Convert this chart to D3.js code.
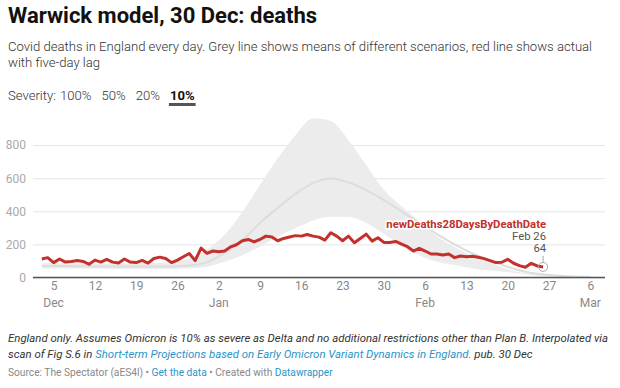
<!DOCTYPE html>
<html>
<head>
<meta charset="utf-8">
<script src="https://cdn.jsdelivr.net/npm/d3@7"></script>
<style>
  body { margin: 0; background: #fff; }
  svg { display: block; font-family: Roboto, sans-serif; }
</style>
</head>
<body>
<div id="chart"></div>
<script>
const parse = d3.timeParse('%Y-%m-%d')

// actual deaths, daily from Dec 3 to Feb 26 (five-day lag)
const actualStart = '2021-12-03'
const actualDeaths = [
  112, 120, 90, 112, 93, 97, 103, 97, 80, 105, 93, 110, 93, 87, 112, 93, 90, 103, 87, 115,
  123, 115, 90, 105, 125, 145, 102, 178, 146,
  160, 155, 160, 185, 198, 222, 230, 215, 230, 250, 245, 222, 236, 245, 253, 250, 260, 250,
  244, 226, 270, 250, 222, 250, 210, 236, 262, 220, 240, 212, 212,
  218, 202, 186, 160, 176, 160, 142, 142, 136, 142, 120, 130, 126, 128, 122, 114, 102, 90,
  92, 110, 86, 72, 62, 86, 70, 64,
]

// model scenarios (10% severity), range and mean
const bandDates = [
  '2021-12-03', '2021-12-10', '2021-12-17', '2021-12-24', '2021-12-28', '2021-12-31',
  '2022-01-03', '2022-01-06', '2022-01-09', '2022-01-12', '2022-01-15', '2022-01-18',
  '2022-01-21', '2022-01-24', '2022-01-27', '2022-01-30', '2022-02-02', '2022-02-05',
  '2022-02-08', '2022-02-11', '2022-02-14', '2022-02-17', '2022-02-20', '2022-02-23',
  '2022-02-27', '2022-03-02', '2022-03-06',
]
const bandLow = [55, 55, 52, 52, 55, 65, 95, 135, 186, 246, 297, 345, 367, 365, 330, 265, 195, 135, 95, 75, 55, 42, 32, 20, 5, 2, 0]
const bandMean = [70, 68, 66, 66, 72, 92, 150, 225, 330, 420, 505, 570, 598, 575, 528, 468, 400, 330, 262, 200, 145, 102, 65, 35, 15, 8, 3]
const bandHigh = [88, 85, 85, 90, 115, 170, 260, 395, 560, 720, 860, 962, 945, 830, 680, 530, 430, 340, 250, 185, 130, 90, 50, 25, 15, 8, 3]

const yTicks = [0, 200, 400, 600, 800]
const xTicks = [
  '2021-12-05', '2021-12-12', '2021-12-19', '2021-12-26', '2022-01-02', '2022-01-09',
  '2022-01-16', '2022-01-23', '2022-01-30', '2022-02-06', '2022-02-13', '2022-02-20',
  '2022-02-27', '2022-03-06',
]
const monthTicks = ['2021-12-05', '2022-01-02', '2022-02-06', '2022-03-06']
const monthNames = ['Dec', 'Jan', 'Feb', 'Mar']
const severities = ['100%', '50%', '20%', '10%']
const activeSeverity = '10%'

const width = 620
const height = 388
const red = '#c4302b'
const blue = '#2a94c8'

const svg = d3
  .select('#chart')
  .append('svg')
  .attr('width', width)
  .attr('height', height)

// header
svg.append('text')
  .attr('x', 8).attr('y', 23)
  .style('font-size', '22px').style('font-weight', 700).style('fill', '#111')
  .text('Warwick model, 30 Dec: deaths')

const sub = svg.append('text')
  .style('font-size', '13.1px').style('font-weight', 300).style('fill', '#333')
sub.append('tspan').attr('x', 8).attr('y', 51)
  .text('Covid deaths in England every day. Grey line shows means of different scenarios, red line shows actual')
sub.append('tspan').attr('x', 8).attr('y', 67)
  .text('with five-day lag')

// severity buttons
let bx = 8
const sevLabel = svg.append('text')
  .attr('x', bx).attr('y', 100)
  .style('font-size', '13.1px').style('font-weight', 300).style('fill', '#333')
  .text('Severity:')
bx += sevLabel.node().getComputedTextLength() + 4
severities.forEach((s) => {
  const active = s === activeSeverity
  const t = svg.append('text')
    .attr('x', bx).attr('y', 100)
    .style('font-size', '13.1px').style('fill', active ? '#111' : '#333')
    .style('font-weight', active ? 700 : 300)
    .text(s)
  const w = t.node().getComputedTextLength()
  if (active) {
    svg.append('rect')
      .attr('x', bx - 1).attr('y', 103).attr('width', w + 2).attr('height', 3)
      .style('fill', '#555')
  }
  bx += w + 10
})

// scales
const x = d3
  .scaleTime()
  .domain([new Date(2021, 11, 1, 12), new Date(2022, 2, 8, 12)])
  .range([33, 605])

const y = d3.scaleLinear().domain([0, 1000]).range([277.5, 112])

const g = svg.append('g')

// grid
g.append('g')
  .attr('class', 'grid')
  .attr('transform', 'translate(33,0)')
  .call(d3.axisLeft(y).tickValues(yTicks).tickSize(-(605 - 33)).tickFormat(''))
  .call((s) => s.select('.domain').remove())
  .selectAll('line')
  .style('stroke', '#e5e5e5')

g.append('g')
  .attr('class', 'axis-y')
  .attr('transform', 'translate(26,0)')
  .call(d3.axisLeft(y).tickValues(yTicks).tickSize(0).tickPadding(0))
  .call((s) => s.select('.domain').remove())
  .selectAll('text')
  .style('font-size', '12px')
  .style('font-family', 'Roboto, sans-serif')
  .style('fill', '#aaa')

// model band
const band = bandDates.map((d, i) => ({
  date: parse(d),
  low: bandLow[i],
  mean: bandMean[i],
  high: bandHigh[i],
}))

g.append('path')
  .datum(band)
  .attr('d', d3.area()
    .curve(d3.curveMonotoneX)
    .x((d) => x(d.date))
    .y0((d) => y(d.low))
    .y1((d) => y(d.high)))
  .style('fill', '#ececec')

g.append('path')
  .datum(band)
  .attr('d', d3.line()
    .curve(d3.curveMonotoneX)
    .x((d) => x(d.date))
    .y((d) => y(d.mean)))
  .style('fill', 'none')
  .style('stroke', '#dddddd')
  .style('stroke-width', 2)

// baseline
g.append('line')
  .attr('x1', 33).attr('x2', 605)
  .attr('y1', y(0)).attr('y2', y(0))
  .style('stroke', '#555').style('stroke-width', 1.5)

// actual deaths
const start = parse(actualStart)
const actual = actualDeaths.map((v, i) => ({ date: d3.timeDay.offset(start, i), value: v }))

g.append('path')
  .datum(actual)
  .attr('d', d3.line()
    .x((d) => x(d.date))
    .y((d) => y(d.value)))
  .style('fill', 'none')
  .style('stroke', red)
  .style('stroke-width', 3)
  .style('stroke-linejoin', 'round')

// last point annotation
const last = actual[actual.length - 1]
const lx = x(last.date)
const ly = y(last.value)
g.append('circle')
  .attr('cx', lx).attr('cy', ly).attr('r', 4.5)
  .style('fill', 'none').style('stroke', '#aaa').style('stroke-width', 1)
g.append('line')
  .attr('x1', lx).attr('x2', lx)
  .attr('y1', ly - 11).attr('y2', ly - 5)
  .style('stroke', '#aaa').style('stroke-width', 1)

const ann = g.append('g').attr('text-anchor', 'end')
ann.append('text')
  .attr('x', lx + 3).attr('y', ly - 39)
  .style('font-size', '11.3px').style('font-weight', 700).style('fill', red)
  .style('paint-order', 'stroke').style('stroke', '#fff').style('stroke-width', 3)
  .text('newDeaths28DaysByDeathDate')
ann.append('text')
  .attr('x', lx + 3).attr('y', ly - 27)
  .style('font-size', '11.3px').style('fill', '#555')
  .text(d3.timeFormat('%b %-d')(last.date))
ann.append('text')
  .attr('x', lx + 3).attr('y', ly - 15)
  .style('font-size', '11.3px').style('fill', '#555')
  .text(last.value)

// x axis
g.append('g')
  .attr('class', 'axis-x')
  .attr('transform', 'translate(0,' + 281 + ')')
  .call(d3.axisBottom(x).tickValues(xTicks.map(parse)).tickSize(0).tickPadding(0)
    .tickFormat(d3.timeFormat('%-d')))
  .call((s) => s.select('.domain').remove())
  .selectAll('text')
  .style('font-size', '12px')
  .style('font-family', 'Roboto, sans-serif')
  .style('fill', '#888')

g.append('g')
  .selectAll('text')
  .data(monthTicks)
  .enter()
  .append('text')
  .attr('x', (d) => x(parse(d)))
  .attr('y', 307)
  .attr('text-anchor', 'middle')
  .style('font-size', '12px')
  .style('fill', '#888')
  .text((d, i) => monthNames[i])

// notes
const note = svg.append('text')
  .style('font-size', '11.4px').style('font-style', 'italic').style('fill', '#333')
note.append('tspan').attr('x', 8).attr('y', 342)
  .text('England only. Assumes Omicron is 10% as severe as Delta and no additional restrictions other than Plan B. Interpolated via')
const l2 = note.append('tspan').attr('x', 8).attr('y', 358)
l2.text('scan of Fig S.6 in ')
note.append('tspan').style('fill', blue)
  .text('Short-term Projections based on Early Omicron Variant Dynamics in England.')
note.append('tspan').text(' pub. 30 Dec')

const src = svg.append('text')
  .attr('x', 8).attr('y', 376)
  .style('font-size', '10.2px').style('fill', '#888')
src.append('tspan').text('Source: The Spectator (aES4l) • ')
src.append('tspan').style('fill', blue).text('Get the data')
src.append('tspan').text(' • Created with ')
src.append('tspan').style('fill', blue).text('Datawrapper')
</script>
</body>
</html>
